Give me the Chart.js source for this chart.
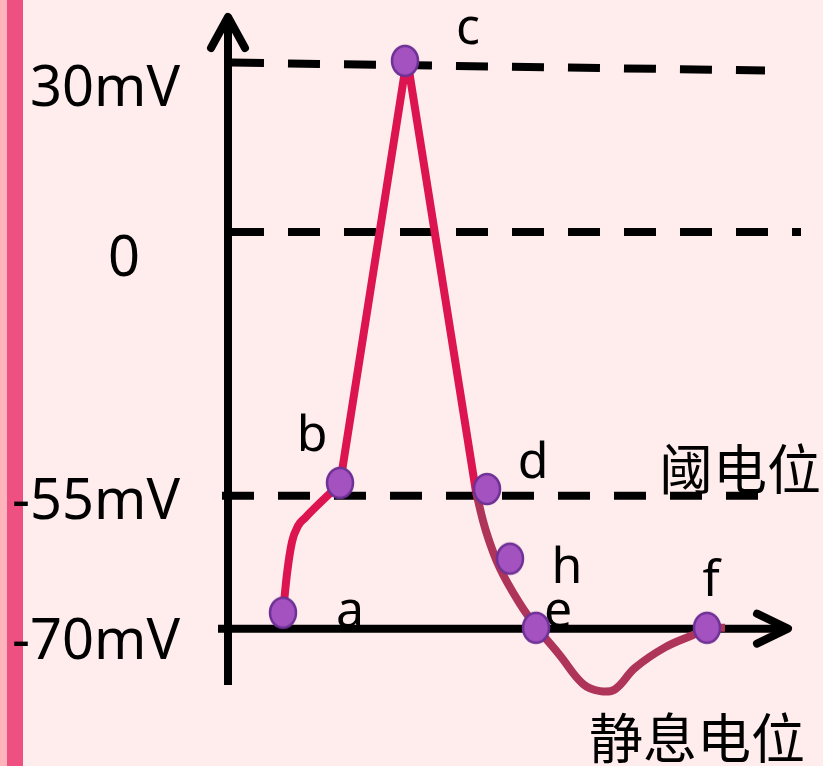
<!DOCTYPE html>
<html lang="zh">
<head>
<meta charset="utf-8">
<script src="https://cdn.jsdelivr.net/npm/chart.js@4.4.0/dist/chart.umd.min.js"></script>
<style>
  html, body { margin: 0; padding: 0; background: #FFEDED; }
  .wrap { position: relative; width: 823px; height: 766px; background: #FFEDED; overflow: hidden; }
  .stripe-a { position: absolute; left: 0; top: 0; width: 7px; height: 766px; background: #FFB3BA; }
  .stripe-b { position: absolute; left: 7px; top: 0; width: 16px; height: 766px; background: #EE5082; }
  canvas { position: absolute; left: 0; top: 0; }
</style>
</head>
<body>
<div class="wrap">
  <div class="stripe-a"></div>
  <div class="stripe-b"></div>
  <canvas id="c" width="823" height="766"></canvas>
</div>
<script>
// 时间（示意单位）与膜电位（mV）
const riseX = [5.5, 5.9, 6.4, 7.0, 7.7, 11.2];
const riseY = [-68.2, -63.8, -60.2, -58.4, -57.5, -52.5];
const spikeX = [11.2, 17.9, 24.8];
const spikeY = [-52.5, 30.8, -54.2];
const fallX = [24.8, 25.8, 27.2, 29.2, 30.9, 33.2, 35.5, 37.2, 38.7, 40.7, 43.7, 46.7, 47.9, 49.7];
const fallY = [-54.2, -59.0, -63.2, -67.2, -69.9, -73.0, -76.2, -77.0, -76.8, -74.4, -72.1, -70.6, -69.9, -69.9];

const pointNames = ['a', 'b', 'c', 'd', 'h', 'e', 'f'];
const pointX = [5.5, 11.2, 17.7, 25.9, 28.2, 30.8, 47.9];
const pointY = [-68.2, -52.3, 30.3, -53.6, -62.1, -69.9, -69.9];

const tickValues = [30, 0, -55, -70];
const tickLabels = ['30mV', '0', '-55mV', '-70mV'];
const dashedValues = [30, 0, -55];

// 示意图的纵轴不是等比例的：按分段比例映射
const yBreaks = [[38, 0], [30, 0.0681], [0, 0.3159], [-55, 0.7014], [-70, 0.8957], [-78, 1]];

class SchematicScale extends Chart.LinearScale {
  getPixelForValue(value) {
    let i = 0;
    while (i < yBreaks.length - 2 && value < yBreaks[i + 1][0]) i++;
    const [v0, f0] = yBreaks[i], [v1, f1] = yBreaks[i + 1];
    const f = f0 + (value - v0) / (v1 - v0) * (f1 - f0);
    return this.top + f * (this.bottom - this.top);
  }
  getValueForPixel(pixel) {
    const f = (pixel - this.top) / (this.bottom - this.top);
    let i = 0;
    while (i < yBreaks.length - 2 && f > yBreaks[i + 1][1]) i++;
    const [v0, f0] = yBreaks[i], [v1, f1] = yBreaks[i + 1];
    return v0 + (f - f0) / (f1 - f0) * (v1 - v0);
  }
}
SchematicScale.id = 'schematic';
SchematicScale.defaults = Chart.LinearScale.defaults;
Chart.register(SchematicScale);

// 椭圆形的点
const dot = document.createElement('canvas');
dot.width = 32; dot.height = 36;
(function () {
  const g = dot.getContext('2d');
  g.beginPath();
  g.ellipse(16, 18, 13, 15, 0, 0, Math.PI * 2);
  g.fillStyle = '#A352C0';
  g.fill();
  g.lineWidth = 2.5;
  g.strokeStyle = '#6F3196';
  g.stroke();
})();

const toXY = (xs, ys) => xs.map((x, i) => ({ x: x, y: ys[i] }));

const FONT = '"Noto Sans", "Noto Sans CJK SC", sans-serif';
const CJK = '"Noto Sans CJK SC", sans-serif';

const sketchPlugin = {
  id: 'sketch',
  beforeDatasetsDraw(chart) {
    const { ctx, chartArea: area, scales: { x, y } } = chart;
    ctx.save();
    ctx.fillStyle = '#000';

    // 字母标注
    const letterOffsets = [[67, 14], [-28, -32], [63, -17], [46, -11], [57, 24], [22, -1], [4, -32]];
    ctx.font = '50px ' + FONT;
    ctx.textAlign = 'center';
    ctx.textBaseline = 'alphabetic';
    pointNames.forEach((n, i) => {
      ctx.fillText(n, x.getPixelForValue(pointX[i]) + letterOffsets[i][0],
        y.getPixelForValue(pointY[i]) + letterOffsets[i][1]);
    });

    // 纵轴刻度文字
    const tickPos = [[180, 'right', 43], [124, 'center', 44], [180, 'right', 23], [180, 'right', 30]];
    ctx.font = '56px ' + FONT;
    tickValues.forEach((v, i) => {
      ctx.textAlign = tickPos[i][1];
      ctx.fillText(tickLabels[i], tickPos[i][0], y.getPixelForValue(v) + tickPos[i][2]);
    });

    // 阈电位 / 静息电位
    ctx.font = '54px ' + CJK;
    ctx.textAlign = 'center';
    ctx.textBaseline = 'middle';
    ctx.fillText('阈电位', 740, y.getPixelForValue(-55) - 26);
    ctx.fillText('静息电位', 697, y.getPixelForValue(-70) + 110);

    // 虚线（30mV 那条在图中略微倾斜）
    const dashFrom = [0.4, 0.4, -0.6];
    const dashTo = [53.7, 57.3, 53.7];
    const dashEndValue = [28.6, 0, -55];
    ctx.strokeStyle = '#000';
    ctx.lineWidth = 8;
    ctx.lineCap = 'butt';
    ctx.setLineDash([32, 24]);
    dashedValues.forEach((v, i) => {
      ctx.beginPath();
      ctx.moveTo(x.getPixelForValue(dashFrom[i]), y.getPixelForValue(v));
      ctx.lineTo(x.getPixelForValue(dashTo[i]), y.getPixelForValue(dashEndValue[i]));
      ctx.stroke();
    });
    ctx.setLineDash([]);

    // 坐标轴和箭头
    const x0 = x.getPixelForValue(0);
    const yBase = y.getPixelForValue(-70);
    ctx.beginPath();
    ctx.moveTo(x0, area.bottom - 15);
    ctx.lineTo(x0, area.top + 3);
    ctx.moveTo(x0 - 10, yBase);
    ctx.lineTo(x.getPixelForValue(55.7), yBase);
    ctx.stroke();

    ctx.lineCap = 'round';
    ctx.lineJoin = 'round';
    const topY = area.top + 1;
    ctx.beginPath();
    ctx.moveTo(x0 - 17, topY + 31);
    ctx.lineTo(x0, topY);
    ctx.lineTo(x0 + 17, topY + 31);
    const tipX = x.getPixelForValue(56);
    ctx.moveTo(tipX - 31, yBase - 15);
    ctx.lineTo(tipX, yBase);
    ctx.lineTo(tipX - 31, yBase + 15);
    ctx.stroke();

    ctx.restore();
  }
};

new Chart(document.getElementById('c'), {
  type: 'line',
  data: {
    datasets: [
      {
        data: toXY(pointX, pointY),
        showLine: false,
        pointStyle: dot,
        pointRadius: 15,
        clip: false
      },
      {
        data: toXY(riseX, riseY),
        borderColor: '#DC1450',
        borderWidth: 8,
        pointRadius: 0,
        cubicInterpolationMode: 'monotone',
        borderCapStyle: 'round',
        clip: false
      },
      {
        data: toXY(spikeX, spikeY),
        borderColor: '#DC1450',
        borderWidth: 8,
        pointRadius: 0,
        tension: 0,
        borderJoinStyle: 'round',
        clip: false
      },
      {
        data: toXY(fallX, fallY),
        borderColor: '#AE3459',
        borderWidth: 8,
        pointRadius: 0,
        tension: 0.4,
        clip: false
      }
    ]
  },
  options: {
    responsive: false,
    animation: false,
    layout: { padding: { left: 228, right: 23, top: 10, bottom: 66 } },
    scales: {
      x: { type: 'linear', min: 0, max: 57.2, display: false },
      y: { type: 'schematic', min: -78, max: 38, display: false }
    },
    plugins: {
      legend: { display: false },
      tooltip: { enabled: false }
    }
  },
  plugins: [sketchPlugin]
});
</script>
</body>
</html>
